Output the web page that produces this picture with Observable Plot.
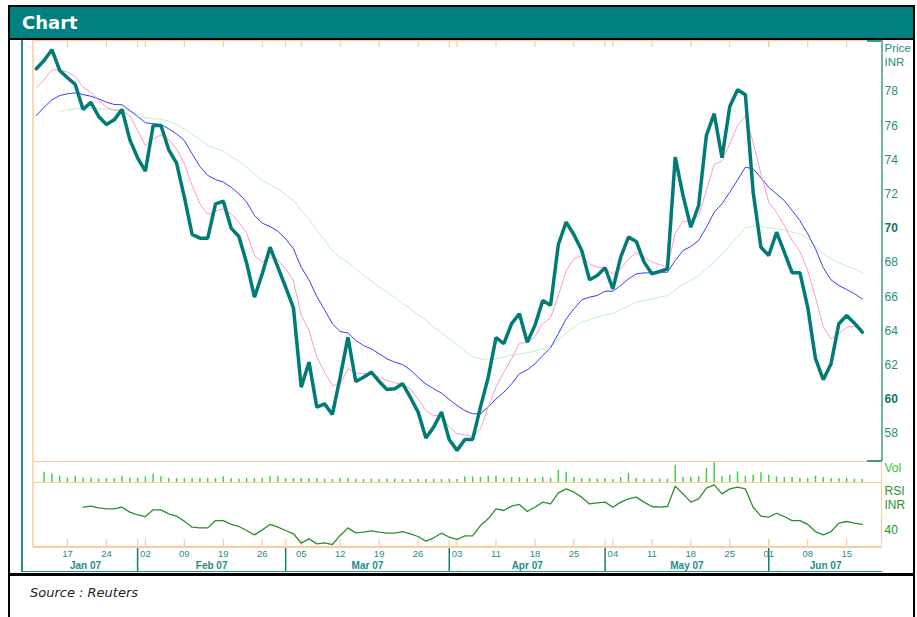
<!DOCTYPE html>
<html><head><meta charset="utf-8">
<script src="https://cdn.jsdelivr.net/npm/d3@7"></script>
<script src="https://cdn.jsdelivr.net/npm/@observablehq/plot@0.6"></script>
<style>
body{margin:0;background:#fff;}
#wrap{position:relative;width:917px;height:617px;overflow:hidden;background:#fff;}
#wrap svg{position:absolute;left:0;}
.ln{position:absolute;}
</style></head><body><div id="wrap"></div>
<script>
// ---- data (trading-day index 0 = 11 Jan 2007 ... 106 = 19 Jun 2007) ----
const price = [79.33,79.81,80.44,79.23,78.80,78.41,76.95,77.37,76.54,76.07,
76.34,76.95,75.18,74.12,73.34,76.01,76.01,74.59,73.81,71.82,
69.64,69.42,69.42,71.43,71.58,70.01,69.52,67.96,65.97,67.34,
68.89,67.73,66.56,65.35,60.71,62.17,59.54,59.73,59.11,61.29,
63.63,61.04,61.29,61.58,61.04,60.57,60.61,60.91,60.12,59.25,
57.73,58.37,59.25,57.63,57.01,57.65,57.65,59.54,61.29,63.60,
63.25,64.42,65.00,63.34,64.32,65.78,65.49,69.05,70.36,69.62,
68.70,66.99,67.24,67.69,66.46,68.31,69.48,69.23,68.02,67.34,
67.47,67.63,74.16,71.92,70.06,71.33,75.43,76.70,74.12,77.12,
78.10,77.81,72.11,68.89,68.41,69.77,68.60,67.40,67.40,65.39,
62.37,61.14,62.08,64.42,64.90,64.45,63.92];
const maShort = [78.19,78.68,79.26,79.26,79.13,78.87,78.25,77.96,77.47,77.08,
76.89,76.89,76.59,75.72,74.84,75.23,75.46,75.17,74.64,73.77,
72.50,71.43,70.80,71.00,71.14,70.84,70.36,69.71,68.41,68.02,
68.31,68.15,67.63,66.94,64.90,64.02,62.46,61.58,60.80,60.90,
61.78,61.53,61.49,61.49,61.29,61.10,60.96,60.90,60.61,60.02,
59.34,59.05,59.05,58.37,57.98,57.92,57.82,58.27,59.54,60.71,
61.58,62.36,63.28,63.30,63.67,64.41,64.76,66.07,67.53,68.21,
68.41,67.92,67.72,67.67,67.33,67.63,68.21,68.56,68.31,68.02,
67.88,67.72,69.71,70.41,70.41,70.75,72.21,73.73,73.92,74.94,
76.01,76.59,75.03,73.18,71.53,70.94,70.16,69.28,68.66,67.53,
65.97,64.22,63.53,63.83,64.22,64.26,64.12];
const maMid = [76.59,77.08,77.51,77.76,77.86,77.92,77.82,77.72,77.57,77.37,
77.24,77.22,76.89,76.54,76.17,76.11,76.07,75.81,75.52,75.13,
74.35,73.61,73.09,72.85,72.70,72.40,72.01,71.53,70.75,70.30,
70.10,69.83,69.38,68.80,67.72,66.98,66.01,65.23,64.41,63.96,
63.88,63.44,63.14,62.95,62.66,62.36,62.17,62.03,61.72,61.29,
60.90,60.61,60.36,59.99,59.63,59.34,59.15,59.15,59.54,60.02,
60.41,60.90,61.49,61.72,62.07,62.56,63.01,63.83,64.70,65.29,
65.81,65.97,66.07,66.32,66.32,66.65,67.04,67.33,67.39,67.39,
67.43,67.43,68.11,68.70,68.93,69.28,70.06,70.94,71.43,72.11,
72.83,73.57,73.48,72.95,72.40,72.01,71.62,71.04,70.45,69.67,
68.80,67.69,66.98,66.65,66.42,66.17,65.87];
const maLong = [null,null,null,76.83,76.93,76.98,77.00,77.00,76.98,76.96,
76.94,76.93,76.85,76.69,76.46,76.40,76.38,76.26,76.07,75.81,
75.52,75.17,74.84,74.68,74.51,74.20,73.92,73.57,73.18,72.79,
72.56,72.31,71.97,71.62,71.04,70.55,69.87,69.32,68.70,68.27,
68.02,67.63,67.24,66.91,66.56,66.26,65.97,65.62,65.29,64.96,
64.61,64.22,63.88,63.53,63.20,62.81,62.50,62.36,62.33,62.36,
62.46,62.56,62.66,62.71,62.81,62.95,63.14,63.49,63.86,64.22,
64.51,64.64,64.80,64.94,65.03,65.23,65.44,65.68,65.78,65.87,
65.97,66.07,66.40,66.71,66.94,67.24,67.63,68.02,68.50,68.99,
69.48,70.01,70.12,70.10,70.02,69.97,69.91,69.77,69.67,69.42,
68.93,68.50,68.21,67.98,67.78,67.63,67.39];
const volume = [null,100,87,63,43,63,43,43,37,40,
40,63,43,43,57,83,57,40,40,40,
40,40,40,40,57,40,33,40,40,40,
57,57,40,40,40,40,40,33,30,40,
40,33,30,33,30,33,33,30,30,33,
30,33,30,33,30,57,57,50,63,63,
40,50,50,40,40,50,40,123,100,50,
40,40,33,40,30,50,90,40,33,33,
33,33,173,50,50,57,140,197,57,73,
107,63,73,97,73,57,50,50,40,40,
63,50,40,40,43,33,33];
const rsi = [null,null,null,null,null,null,59.1,60.0,58.6,57.7,
57.7,59.1,54.9,52.6,51.2,56.9,56.9,53.5,51.5,47.3,
42.2,41.6,41.6,47.8,47.8,44.5,42.8,39.4,35.7,39.9,
44.5,42.2,39.4,36.6,28.7,32.3,28.1,29.0,27.5,35.2,
41.6,37.4,38.0,39.1,38.0,37.1,37.1,38.5,36.6,34.3,
30.4,33.2,37.1,33.7,31.8,34.9,34.9,43.6,49.3,57.7,
56.3,60.0,61.4,55.5,59.1,63.4,61.9,71.2,74.6,71.8,
67.6,61.9,62.8,63.4,59.1,63.4,66.2,67.6,63.4,59.7,
59.1,59.7,76.9,70.4,63.4,66.2,75.2,78.0,70.4,74.6,
76.0,74.6,59.1,51.5,50.7,54.0,51.2,47.8,47.8,44.5,
38.5,35.7,38.5,45.6,47.0,45.6,44.5];
const tickIdx = [4,9,14,19,24,29,34,39,44,49,54,59,64,69,74,79,84,89,94,99,104];
const dayLabels = ["17","24","02","09","19","26","05","12","19","26","03","11","18","25","04","11","18","25","01","08","15"];
const monthNames = ["Jan 07","Feb 07","Mar 07","Apr 07","May 07","Jun 07"];
const monthStarts = [13,32,53,73,94];
const priceTicks = [78,76,74,72,68,66,64,62,58];
const priceTicksBold = [70,60];
const rsiTicks = [40];

// ---- layout & style ----
const W = 917, xMin = -0.36, xMax = 108.6;
const ORANGE = "#fdcb9c", TEAL_TXT = "#1f8c88", TEAL_BOLD = "#0d7370";
const FONT = "'Liberation Sans', Arial, sans-serif";
const rows = price.map((p, i) => ({i, p, s: maShort[i], m: maMid[i], l: maLong[i], v: volume[i], r: rsi[i]}));
const labelOf = new Map(tickIdx.map((t, k) => [t, dayLabels[k]]));
const bounds = [xMin, ...monthStarts, xMax];
const monthRows = monthNames.map((name, k) => ({name, mid: (bounds[k] + bounds[k + 1]) / 2}));
const base = {width: W, marginLeft: 33, marginRight: 35,
  style: {background: "transparent", overflow: "visible", fontFamily: FONT}};

const pricePlot = Plot.plot({
  ...base, height: 421, marginTop: 0, marginBottom: 0,
  x: {domain: [xMin, xMax], axis: null},
  y: {domain: [56.36, 80.98]},
  marks: [
    Plot.ruleX([...tickIdx, ...monthStarts], {x: d => d, stroke: ORANGE, strokeWidth: 1.2, insetBottom: 414}),
    Plot.line(rows, {x: "i", y: "l", stroke: "#bdf3bd", strokeWidth: 1}),
    Plot.line(rows, {x: "i", y: "m", stroke: "#3a3aff", strokeWidth: 1}),
    Plot.line(rows, {x: "i", y: "s", stroke: "#ff9acb", strokeWidth: 1}),
    Plot.line(rows, {x: "i", y: "p", stroke: "#007b76", strokeWidth: 3.5, strokeLinejoin: "miter"}),
    Plot.axisY(priceTicks, {anchor: "right", tickSize: 0, tickPadding: 2, fontSize: 12, fill: TEAL_TXT, label: null}),
    Plot.axisY(priceTicksBold, {anchor: "right", tickSize: 0, tickPadding: 2, fontSize: 12, fontWeight: "bold", fill: TEAL_BOLD, label: null}),
    Plot.text(["Price\nINR"], {frameAnchor: "top-right", textAnchor: "start", lineAnchor: "top", dx: 2, dy: 2, fontSize: 11.5, lineHeight: 1.22, fill: TEAL_TXT})
  ]
});
pricePlot.style.top = "40px";

const volPlot = Plot.plot({
  ...base, height: 21, marginTop: 0, marginBottom: 0,
  x: {domain: [xMin, xMax], axis: null},
  y: {domain: [0, 210], axis: null},
  marks: [
    Plot.ruleX(rows.filter(d => d.v != null), {x: "i", y1: 0, y2: "v", stroke: "#3fd43f", strokeWidth: 1.5}),
    Plot.text(["Vol"], {frameAnchor: "right", textAnchor: "start", dx: 2, dy: -3.5, fontSize: 12, fill: "#33c033"})
  ]
});
volPlot.style.top = "461px";

const rsiPlot = Plot.plot({
  ...base, height: 93, marginTop: 0, marginBottom: 28,
  x: {domain: [xMin, xMax]},
  y: {domain: [25, 80]},
  marks: [
    Plot.ruleX([...tickIdx, ...monthStarts], {x: d => d, stroke: ORANGE, strokeWidth: 1.2, insetTop: 57}),
    Plot.line(rows, {x: "i", y: "r", stroke: "#2b8f2b", strokeWidth: 1.3}),
    Plot.axisY(rsiTicks, {anchor: "right", tickSize: 0, tickPadding: 2, fontSize: 12, fill: "#229922", label: null}),
    Plot.text(["RSI\nINR"], {frameAnchor: "top-right", textAnchor: "start", lineAnchor: "top", dx: 2, dy: 2, fontSize: 12, lineHeight: 1.2, fill: "#229922"}),
    Plot.axisX(tickIdx, {anchor: "bottom", tickSize: 0, tickPadding: 3, tickFormat: t => labelOf.get(t), fontSize: 9.5, fill: TEAL_TXT, label: null}),
    Plot.ruleX(monthStarts, {x: d => d, stroke: "#167a76", strokeWidth: 1.5, insetTop: 65, insetBottom: -25}),
    Plot.text(monthRows, {x: "mid", text: "name", frameAnchor: "bottom", dy: 21, fontSize: 10, fontWeight: "bold", fill: TEAL_TXT})
  ]
});
rsiPlot.style.top = "482px";

const wrap = document.getElementById("wrap");
wrap.append(pricePlot, volPlot, rsiPlot);

// ---- frame decoration ----
function ln(x, y, w, h, c) {
  const d = document.createElement("div");
  d.className = "ln";
  Object.assign(d.style, {left: x + "px", top: y + "px", width: w + "px", height: h + "px", background: c});
  wrap.append(d);
}
ln(10, 6, 903, 32, "#008080");
ln(8, 5, 907, 1.5, "#000");
ln(8, 5, 2.2, 612, "#000");
ln(913, 5, 2.2, 612, "#000");
ln(8, 37.6, 907, 2.4, "#000");
ln(8, 573, 907, 2.5, "#000");
ln(21, 40, 1.5, 532, "#2a8d88");
ln(21, 570.5, 861, 1.5, "#2a8d88");
ln(32, 40, 2, 507, "#fdd8b4");
ln(33, 40, 834, 1, ORANGE);
ln(867, 40, 15, 1.5, "#3a9a94");
ln(880.5, 40, 2, 421, "#6fb3aa");
ln(33, 460.5, 834, 1.2, ORANGE);
ln(867, 460.3, 15, 1.5, "#3a9a94");
ln(33, 481.6, 849, 1.2, ORANGE);
ln(880.8, 461.5, 1.5, 86, ORANGE);
ln(33, 546.3, 849, 1.5, ORANGE);

const title = document.createElement("div");
Object.assign(title.style, {position: "absolute", left: "22px", top: "12px", lineHeight: "18px",
  font: "bold 18px 'DejaVu Sans', Verdana, sans-serif", color: "#fff"});
title.textContent = "Chart";
wrap.append(title);
const src = document.createElement("div");
Object.assign(src.style, {position: "absolute", left: "30px", top: "585px", lineHeight: "13px",
  font: "italic 13px 'DejaVu Sans', Verdana, sans-serif", color: "#222"});
src.textContent = "Source : Reuters";
wrap.append(src);
</script></body></html>
